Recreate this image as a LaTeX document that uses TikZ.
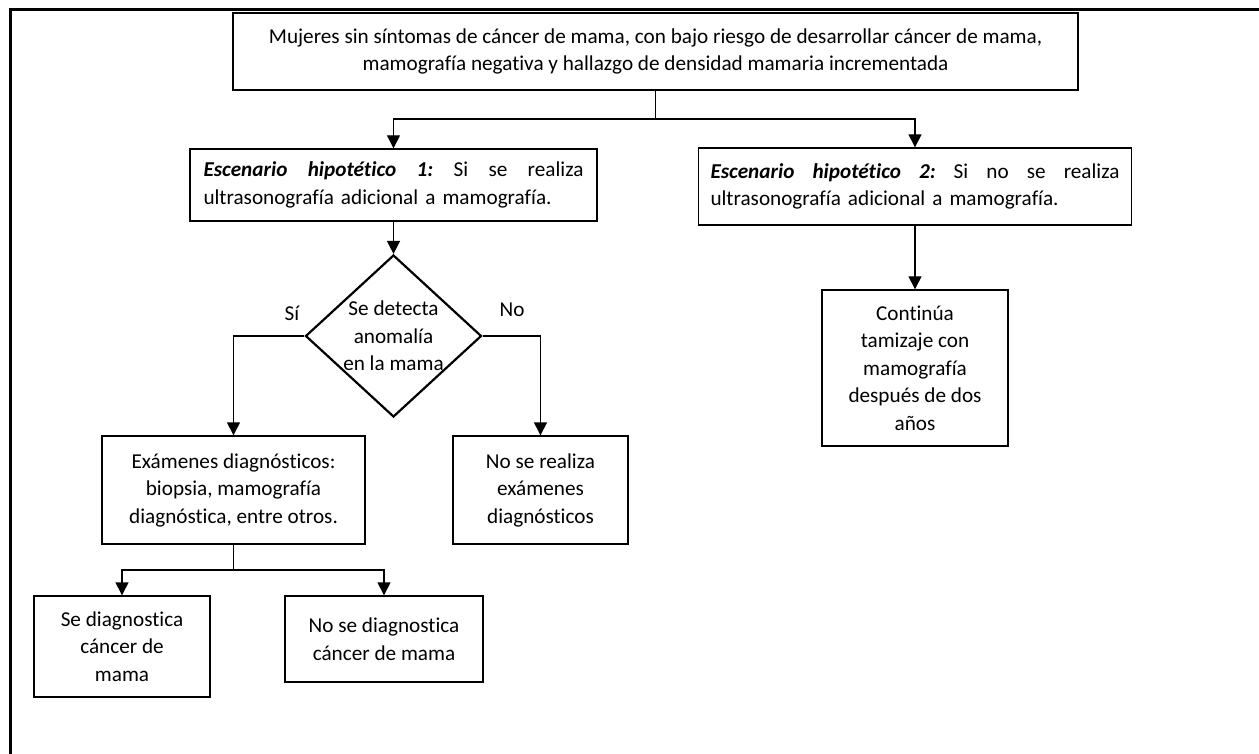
\documentclass[tikz,border=0pt]{standalone}
\usepackage{fontspec}
\setmainfont{Carlito}[Ligatures=NoCommon]
\usetikzlibrary{shapes.geometric,arrows.meta}

% a line spread evenly over a given width
\newcommand{\spreadline}[2]{\hbox to #1{#2}}
\newcommand{\bi}[1]{\textbf{\textit{#1}}}

\begin{document}
\begin{tikzpicture}[x=1pt,y=-1pt,
  txt/.style={font=\fontsize{21.2}{27.5}\selectfont},
  box/.style={txt, draw, line width=1.4pt, inner sep=0pt, align=center},
  conn/.style={line width=1.4pt},
  arr/.style={line width=1.4pt, -{Triangle[width=13pt,length=13pt]}},
  lbl/.style={txt, inner sep=0pt}]
\useasboundingbox (0,0) rectangle (1259,754);

% outer frame
\draw[line width=3pt] (10,756) -- (10,10) -- (1261,10);

% boxes
\node[box, minimum width=845, minimum height=77] (top) at (655.5,51.5)
  {Mujeres sin síntomas de cáncer de mama, con bajo riesgo de desarrollar cáncer de mama,\\
   mamografía negativa y hallazgo de densidad mamaria incrementada};

\node[box, align=left, minimum width=407, minimum height=72, text width=380pt] (e1) at (393.5,185)
  {\spreadline{380pt}{\bi{Escenario}\hfill\bi{hipotético}\hfill\bi{1:}\hfill Si\hfill se\hfill realiza}\\
   ultrasonografía adicional a mamografía.};

\node[box, align=left, minimum width=433, minimum height=77, text width=409pt] (e2) at (915,186.5)
  {\spreadline{409pt}{\bi{Escenario}\hfill\bi{hipotético}\hfill\bi{2:}\hfill Si\hfill no\hfill se\hfill realiza}\\
   ultrasonografía adicional a mamografía.};

\node[draw, diamond, line width=2.2pt, minimum width=176, minimum height=162, inner sep=0pt] (d) at (393.5,336) {};
\node[lbl, align=center] (dt) at (d.center) {Se detecta\\anomalía\\en la mama};

\node[box, minimum width=186, minimum height=156] (cont) at (915,368)
  {Continúa\\tamizaje con\\mamografía\\después de dos\\años};

\node[box, minimum width=263, minimum height=108] (exam) at (233.5,490)
  {Exámenes diagnósticos:\\biopsia, mamografía\\diagnóstica, entre otros.};

\node[box, minimum width=175, minimum height=108] (noreal) at (540.5,490)
  {No se realiza\\exámenes\\diagnósticos};

\node[box, minimum width=176, minimum height=101] (sed) at (122,646.5)
  {Se diagnostica\\cáncer de\\mama};

\node[box, minimum width=198, minimum height=86] (nosed) at (384,639)
  {No se diagnostica\\cáncer de mama};

% branch labels
\node[lbl] (si) at (292,313) {Sí};
\node[lbl] (no) at (512,310) {No};

% connectors
\coordinate (j1) at (655.5,119);
\draw[conn] (top.south) -- (j1);
\draw[arr] (j1) -| (e1.north);
\draw[arr] (j1) -| (e2.north);

\draw[arr] (e1.south) -- (d.north);
\draw[arr] (e2.south) -- (cont.north);

\draw[arr] (d.west) -| (exam.north);
\draw[arr] (d.east) -| (noreal.north);

\coordinate (j2) at (233.5,570);
\draw[conn] (exam.south) -- (j2);
\draw[arr] (j2) -| (sed.north);
\draw[arr] (j2) -| (nosed.north);
\end{tikzpicture}
\end{document}
